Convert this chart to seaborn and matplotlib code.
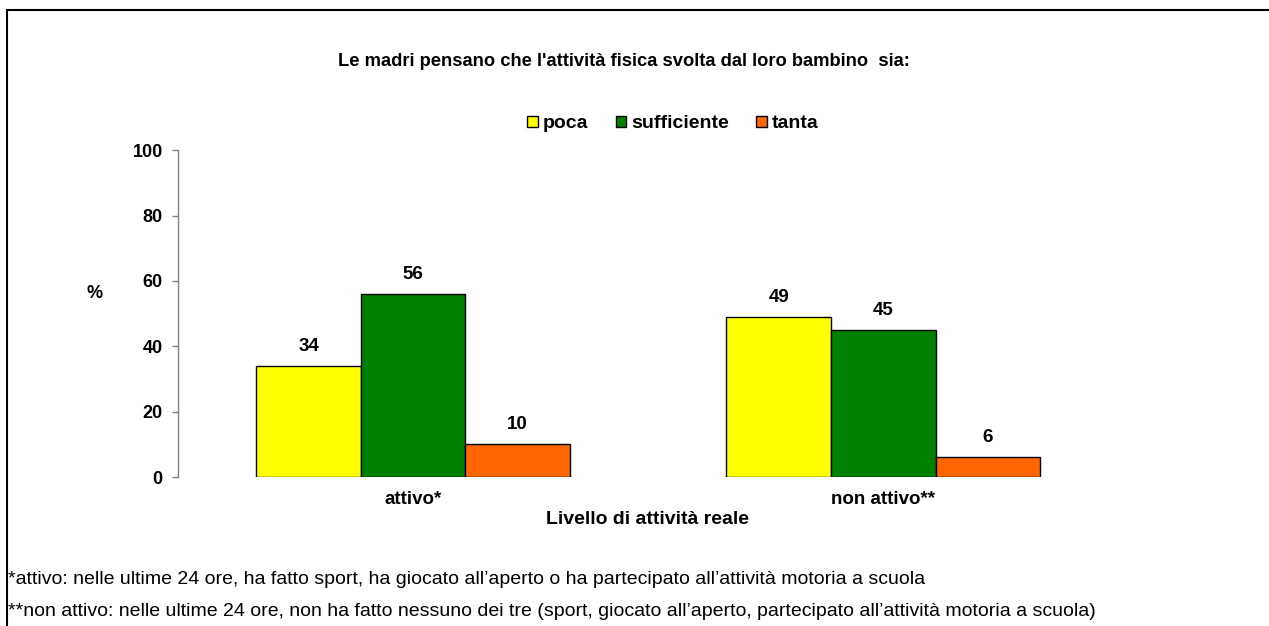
import matplotlib
matplotlib.use("Agg")
import matplotlib.pyplot as plt
import seaborn as sns
import pandas as pd
from matplotlib.lines import Line2D

# data
livelli = ['attivo*', 'non attivo**']
giudizi = ['poca', 'sufficiente', 'tanta']
poca = [34, 49]
sufficiente = [56, 45]
tanta = [10, 6]
colori = ['#FFFF00', '#008000', '#FF6600']

titolo = "Le madri pensano che l'attività fisica svolta dal loro bambino  sia:"
note = ["*attivo: nelle ultime 24 ore, ha fatto sport, ha giocato all\u2019aperto o ha partecipato all\u2019attività motoria a scuola",
        "**non attivo: nelle ultime 24 ore, non ha fatto nessuno dei tre (sport, giocato all\u2019aperto, partecipato all\u2019attività motoria a scuola)"]

data = pd.DataFrame({
    'livello': livelli * 3,
    'giudizio': [g for g in giudizi for _ in livelli],
    'perc': poca + sufficiente + tanta,
})

sns.set_style("white")
plt.rcParams['font.family'] = ['Liberation Sans', 'DejaVu Sans']
plt.rcParams['text.color'] = 'black'
plt.rcParams['xtick.color'] = 'black'
plt.rcParams['ytick.color'] = 'black'
plt.rcParams['axes.labelcolor'] = 'black'

fig = plt.figure(figsize=(12.69, 6.26), dpi=100)
ax = fig.add_axes([0.1403, 0.238, 0.741, 0.522])

sns.barplot(data=data, x='livello', y='perc', hue='giudizio', hue_order=giudizi,
            palette=colori, width=0.667, gap=0, edgecolor='black', linewidth=1,
            saturation=1, ax=ax)

for c in ax.containers:
    ax.bar_label(c, fmt='%d', padding=8, fontsize=13.5, fontweight='bold')

ax.set_xlim(-0.5, 1.5)
ax.set_ylim(0, 100)
ax.set_yticks(range(0, 101, 20))
for s in ['top', 'right', 'bottom']:
    ax.spines[s].set_visible(False)
ax.spines['left'].set_color('#808080')
ax.spines['left'].set_linewidth(1)
ax.tick_params(axis='y', left=True, length=4, width=1, color='#808080', pad=7, labelsize=13)
ax.tick_params(axis='x', length=0, pad=10, labelsize=13.5)
for lab in ax.get_xticklabels() + ax.get_yticklabels():
    lab.set_fontweight('bold')

ax.set_xlabel('')
ax.set_ylabel('')
fig.text(648 / 1269, 1 - 520 / 626, 'Livello di attività reale', ha='center', va='center',
         fontsize=14, fontweight='bold')
fig.text(95 / 1269, 1 - 293 / 626, '%', ha='center', va='center',
         fontsize=13, fontweight='bold')

handles, labels = ax.get_legend_handles_labels()
ax.legend_.remove()
fig.legend(handles, labels, loc='center', bbox_to_anchor=(673 / 1269, 1 - 124 / 626),
           ncol=3, frameon=False, handlelength=0.55, handleheight=0.55,
           handletextpad=0.25, columnspacing=1.4, prop={'weight': 'bold', 'size': 14})

fig.text(624 / 1269, 1 - 62 / 626, titolo, ha='center', va='center',
         fontsize=13.2, fontweight='bold')

fig.text(8 / 1269, 1 - 580 / 626, note[0], ha='left', va='center', fontsize=14)
fig.text(8 / 1269, 1 - 612 / 626, note[1], ha='left', va='center', fontsize=14)

# outer frame (left and top edges)
fig.add_artist(Line2D([7 / 1269, 7 / 1269], [0, 1 - 10 / 626], transform=fig.transFigure,
                      color='black', linewidth=1.5))
fig.add_artist(Line2D([7 / 1269, 1], [1 - 10 / 626, 1 - 10 / 626], transform=fig.transFigure,
                      color='black', linewidth=1.5))

fig.savefig('out.png', dpi=100)
